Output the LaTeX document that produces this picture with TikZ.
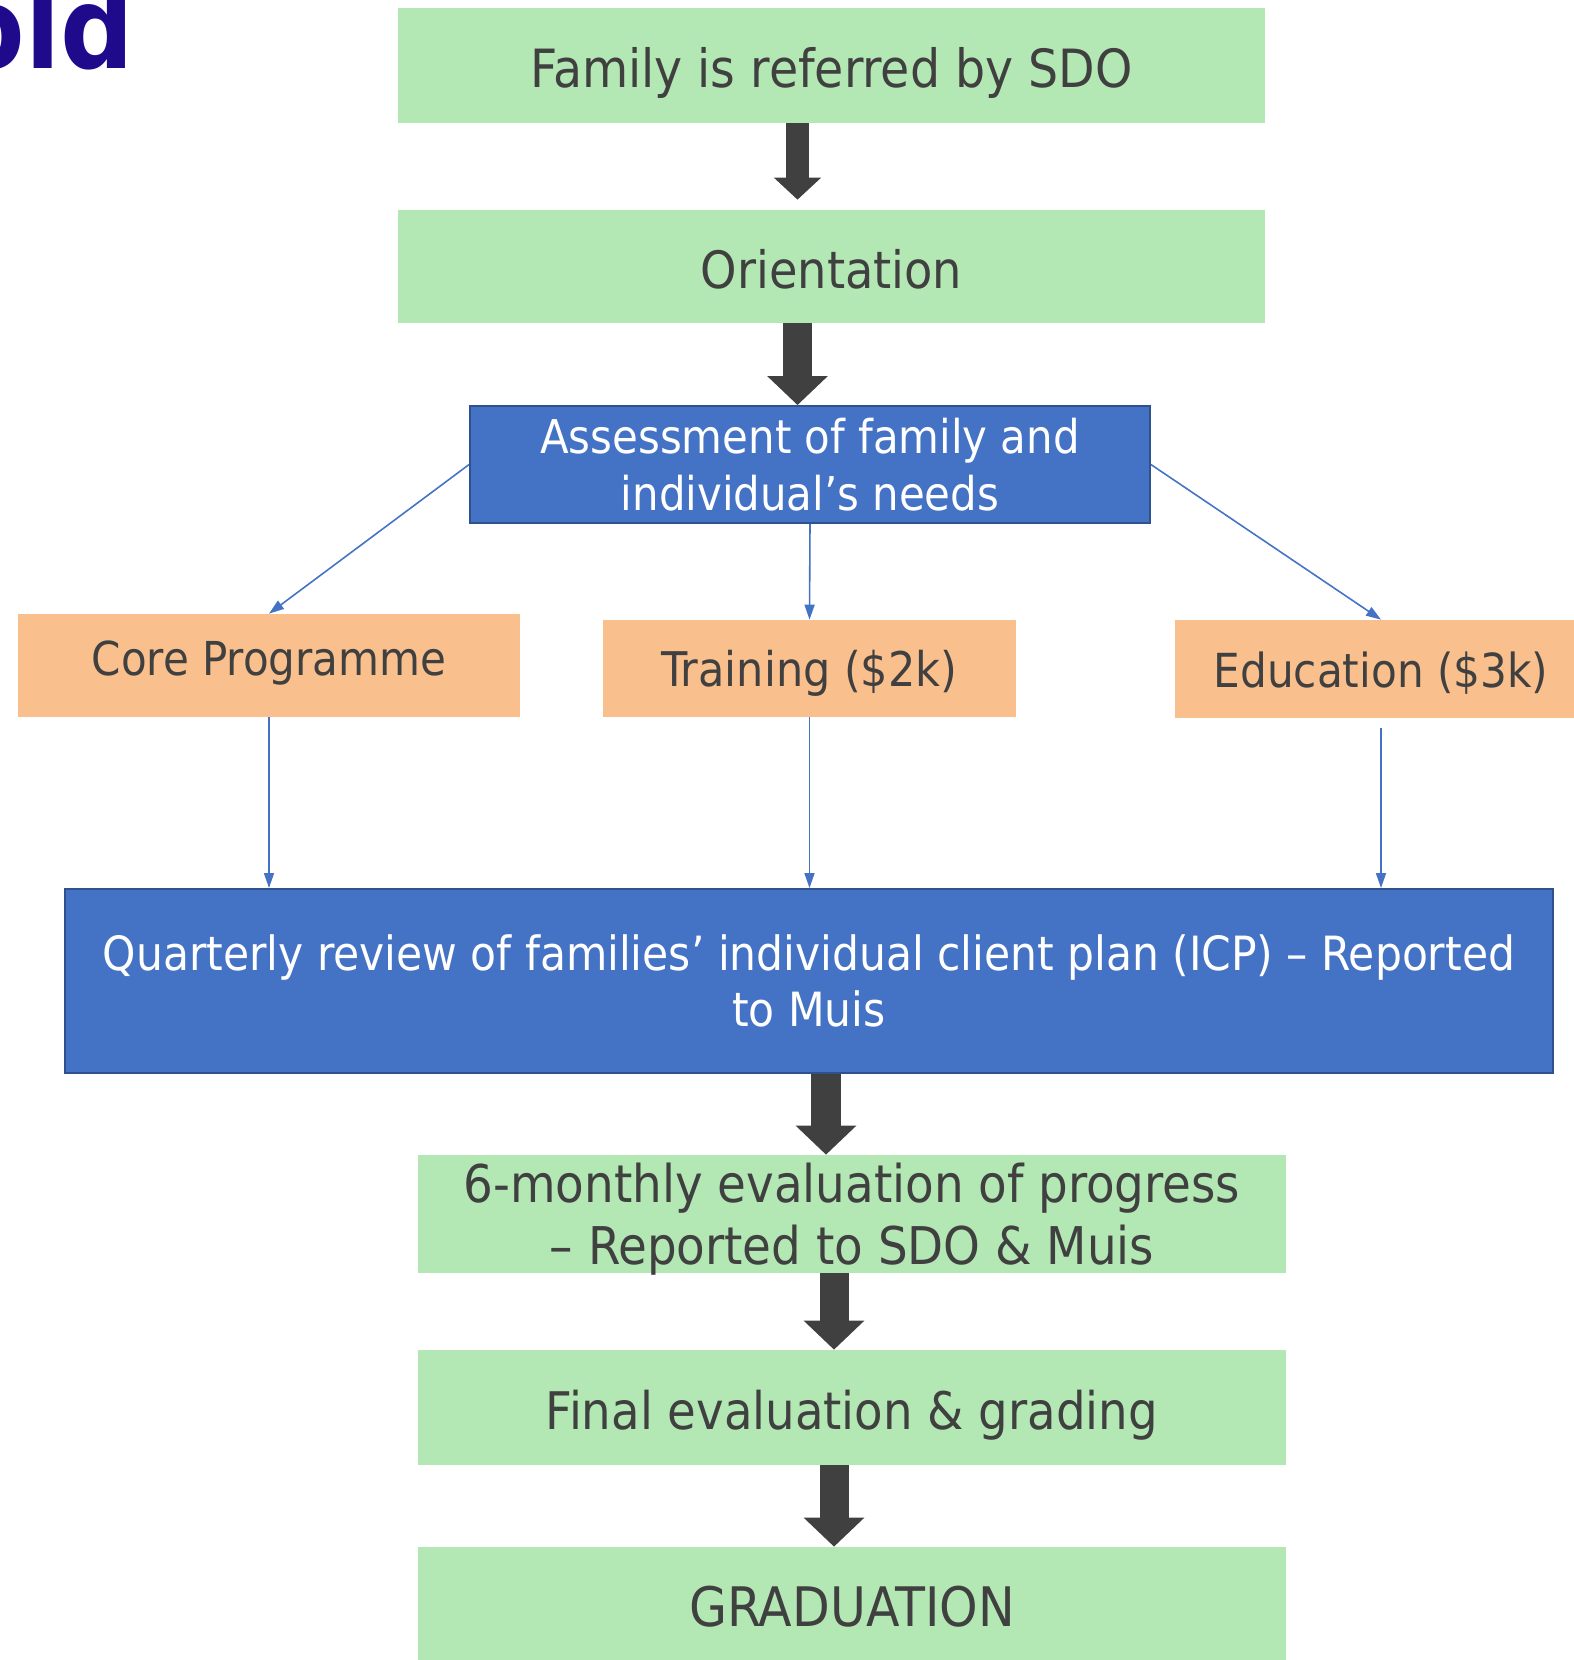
\documentclass[tikz,border=0pt]{standalone}
\usepackage{fontspec}
\setmainfont{DejaVu Sans Condensed}
\usetikzlibrary{arrows.meta}
\definecolor{boxgreen}{RGB}{179,232,180}
\definecolor{boxorange}{RGB}{249,192,142}
\definecolor{boxblue}{RGB}{68,114,196}
\definecolor{edgeblue}{RGB}{47,82,143}
\definecolor{textgrey}{RGB}{64,64,64}
\definecolor{titleblue}{RGB}{31,10,140}

\begin{document}
\begin{tikzpicture}[x=0.02cm, y=-0.02cm,
    box/.style={rectangle, inner sep=0pt, align=center},
    greenbox/.style={box, fill=boxgreen, text=textgrey, minimum width=17.35cm,
      text height=24.5pt, text depth=0pt},
    orangebox/.style={box, fill=boxorange, text=textgrey,
      text height=20.8pt, text depth=0pt},
    bluebox/.style={box, fill=boxblue, draw=edgeblue, line width=1.1pt, text=white},
    bigarrow/.style={draw=textgrey, line width=0.58cm,
      -{Triangle[length=0.58cm, width=1.18cm]}},
    thinarrow/.style={draw=boxblue, line width=0.9pt,
      -{Triangle[length=0.3cm, width=0.2cm]}}]
  \useasboundingbox (0,0) rectangle (1574,1660);

  \node[anchor=base east, text=titleblue, font=\fontsize{65}{65}\selectfont\bfseries]
    (title) at (140,68) {old};

  \node[greenbox, minimum height=2.3cm, font=\fontsize{30}{35}\selectfont]
    (refer) at (831.5,65.5) {Family is referred by SDO};
  \node[greenbox, minimum height=2.26cm, font=\fontsize{29.3}{35}\selectfont]
    (orient) at (831.5,266.5) {Orientation};
  \node[bluebox, minimum width=13.6cm, minimum height=2.34cm,
    font=\fontsize{26.5}{32.3}\selectfont] (assess) at (810,464.5)
    {Assessment of family and\\individual’s needs};

  \node[orangebox, minimum width=10.04cm, minimum height=2.06cm, text height=11.1pt,
    font=\fontsize{26.6}{32}\selectfont] (core) at (269,665.5) {Core Programme};
  \node[orangebox, minimum width=8.26cm, minimum height=1.94cm,
    font=\fontsize{27.2}{32}\selectfont] (train) at (809.5,668.5) {Training (\$2k)};
  \node[orangebox, minimum width=8.24cm, minimum height=1.96cm,
    font=\fontsize{26.7}{32}\selectfont] (edu) at (1381,669) {Education (\$3k)};

  \node[bluebox, minimum width=29.76cm, minimum height=3.68cm,
    font=\fontsize{26.85}{31.7}\selectfont] (quart) at (809,981)
    {Quarterly review of families’ individual client plan (ICP) – Reported\\to Muis};

  \node[greenbox, minimum height=2.36cm, text height=57.8pt, text depth=0pt,
    font=\fontsize{29.6}{35.4}\selectfont] (six) at (852,1214)
    {6-monthly evaluation of progress\\– Reported to SDO \& Muis};
  \node[greenbox, minimum height=2.3cm, font=\fontsize{29.5}{35}\selectfont]
    (final) at (852,1407.5) {Final evaluation \& grading};
  \node[greenbox, minimum height=2.32cm, font=\fontsize{31}{35}\selectfont]
    (grad) at (852,1605) {GRADUATION};

  % block arrows down the middle
  \draw[bigarrow, line width=0.46cm, -{Triangle[length=0.44cm, width=0.92cm]}, shorten >=0.2cm]
    (refer.south -| 797.5,0) -- (orient.north -| 797.5,0);
  \draw[bigarrow] (orient.south -| 797.5,0) -- (assess.north -| 797.5,0);
  \draw[bigarrow, line width=0.6cm] (quart.south -| 826,0) -- (six.north -| 826,0);
  \draw[bigarrow] (six.south -| 834,0) -- (final.north -| 834,0);
  \draw[bigarrow] (final.south -| 834,0) -- (grad.north -| 834,0);

  % thin arrows to and from the three streams
  \foreach \a/\n in {west/core, south/train, east/edu}
    \draw[thinarrow] (assess.\a) -- (\n.north);
  \foreach \n/\s in {core/0, train/0, edu/0.2}
    \draw[thinarrow, shorten <=\s cm] (\n.south) -- (\n.south |- quart.north);
\end{tikzpicture}
\end{document}
